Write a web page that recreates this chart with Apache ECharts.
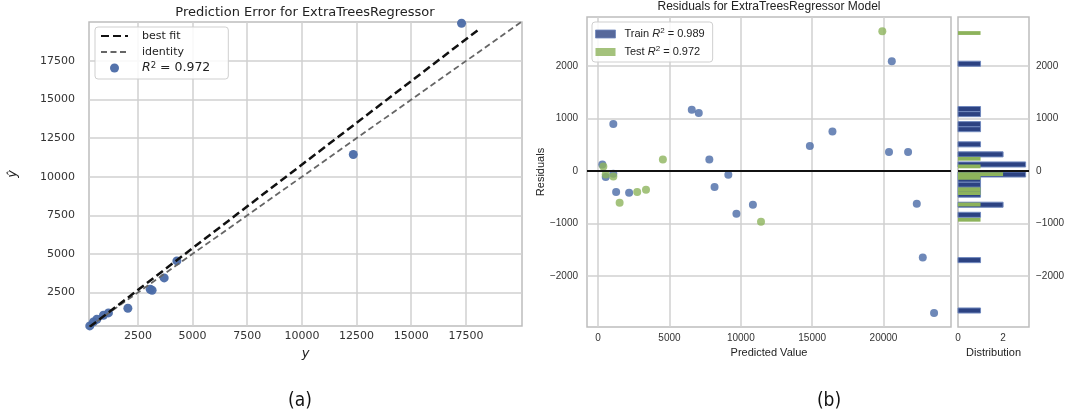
<!DOCTYPE html>
<html><head><meta charset="utf-8">
<script src="https://cdn.jsdelivr.net/npm/echarts@6/dist/echarts.min.js"></script>
<style>html,body{margin:0;padding:0;background:#fff}#c{width:1072px;height:420px}</style>
</head><body><div id="c"></div>
<script>
// ---------- (a) Prediction Error data ----------
const actualY    = [300, 469, 624, 926, 1155, 2043, 3063, 3150, 3703, 4284, 12350, 17300];
const predictedY = [334, 593, 768, 1028, 1177, 1482, 2714, 2650, 3447, 4549, 11440, 19950];
const bestFitX   = [300, 18100];
const bestFitY   = [280, 19560];
const identityX  = [265, 20065];
const identityY  = [265, 20065];
const errTicks   = [2500, 5000, 7500, 10000, 12500, 15000, 17500];

// ---------- (b) Residuals data ----------
const trainPred  = [294, 532, 1064, 20581, 6562, 7052, 1064, 16422, 14839, 20385, 21723, 7794, 9125, 8158, 1261, 2171, 9692, 10847, 22332, 22752, 23543];
const trainResid = [127, -114, -49, 2091, 1167, 1103, 894, 755, 475, 361, 361, 222, -68, -304, -399, -411, -810, -639, -620, -1646, -2700];
const testPred   = [364, 532, 1064, 19916, 4538, 1506, 2738, 3354, 11415];
const testResid  = [89, -63, -101, 2662, 222, -601, -399, -354, -962];
const residXTicks = [0, 5000, 10000, 15000, 20000];
const residYTicks = [-2000, -1000, 0, 1000, 2000];
const histXTicks  = [0, 2];
// histogram bins (lower edge, upper edge, count)
const trainBinLo    = [-2700, -1742, -880, -688, -497, -401, -305, -209, -113, 78, 270, 461, 749, 845, 1036, 1132, 1994];
const trainBinHi    = [-2604, -1646, -784, -592, -401, -305, -209, -113, -17, 174, 366, 557, 845, 941, 1132, 1228, 2090];
const trainBinCount = [1, 1, 1, 2, 1, 1, 1, 1, 3, 3, 2, 1, 1, 1, 1, 1, 1];
const testBinLo     = [-962, -672, -455, -382, -165, -92, 53, 198, 2590];
const testBinHi     = [-890, -600, -382, -310, -92, -20, 125, 270, 2662];
const testBinCount  = [1, 1, 1, 1, 1, 2, 1, 1, 1];

const zip = (a, b) => a.map((v, i) => [v, b[i]]);
const bins = (lo, hi, c) => lo.map((v, i) => [v, hi[i], c[i]]);
const fmt = v => (v < 0 ? '\u2212' + Math.abs(v) : String(v));

const F1 = 'DejaVu Sans';
const F2 = 'Liberation Sans';
const gridColor = '#d0d0d0';
const borderColor = '#bdbdbd';
const BLUE = '#4a6aa6', GREEN = '#8db45c';
const HBLUE = '#2c4282', HGREEN = '#8db35b';

function axis(o) {
  const base = {
    type: 'value', min: o.min, max: o.max, gridIndex: o.grid,
    axisLine: { show: false },
    axisTick: { show: false, customValues: o.ticks },
    axisLabel: { customValues: o.ticks, formatter: fmt, fontFamily: o.font, fontSize: o.fs, color: '#333', margin: o.margin },
    splitLine: { show: o.split !== false, lineStyle: { color: gridColor, width: 1.5 } }
  };
  return Object.assign(base, o.extra || {});
}

const chart = echarts.init(document.getElementById('c'));
const histRender = (color, stroke) => (params, api) => {
  const lo = api.value(0), hi = api.value(1), c = api.value(2);
  const p0 = api.coord([0, hi]);
  const p1 = api.coord([c, lo]);
  return { type: 'rect', shape: { x: p0[0], y: p0[1], width: p1[0] - p0[0], height: p1[1] - p0[1] },
           style: { fill: color, stroke: stroke, lineWidth: stroke ? 1 : 0 } };
};

const option = {
  backgroundColor: '#fff',
  animation: false,
  grid: [
    { left: 89, top: 22, width: 433, height: 304, show: true, borderColor: borderColor, borderWidth: 1.5, backgroundColor: '#fff' },
    { left: 587, top: 17, width: 364, height: 310, show: true, borderColor: borderColor, borderWidth: 1.5, backgroundColor: '#fff' },
    { left: 958, top: 17, width: 71, height: 310, show: true, borderColor: borderColor, borderWidth: 1.5, backgroundColor: '#fff' }
  ],
  xAxis: [
    axis({ grid: 0, min: 265, max: 20065, ticks: errTicks, font: F1, fs: 11, margin: 5,
      extra: { name: 'y', nameLocation: 'middle', nameGap: 19, nameTextStyle: { fontStyle: 'italic', fontSize: 13, fontFamily: F1, color: '#222' } } }),
    axis({ grid: 1, min: -780, max: 24730, ticks: residXTicks, font: F2, fs: 10, margin: 6,
      extra: { name: 'Predicted Value', nameLocation: 'middle', nameGap: 19, nameTextStyle: { fontSize: 11, fontFamily: F2, color: '#222' } } }),
    axis({ grid: 2, min: 0, max: 3.15, ticks: histXTicks, font: F2, fs: 10, margin: 6, split: false,
      extra: { name: 'Distribution', nameLocation: 'middle', nameGap: 19, nameTextStyle: { fontSize: 11, fontFamily: F2, color: '#222' } } })
  ],
  yAxis: [
    axis({ grid: 0, min: 330, max: 20030, ticks: errTicks, font: F1, fs: 11, margin: 14,
      extra: { name: 'ŷ', nameLocation: 'middle', nameGap: 70, nameRotate: 90, nameTextStyle: { fontStyle: 'italic', fontSize: 13, fontFamily: F1, color: '#222' } } }),
    axis({ grid: 1, min: -2966, max: 2931, ticks: residYTicks, font: F2, fs: 10, margin: 9,
      extra: { name: 'Residuals', nameLocation: 'middle', nameGap: 40, nameRotate: 90, nameTextStyle: { fontSize: 11, fontFamily: F2, color: '#222' } } }),
    axis({ grid: 2, min: -2966, max: 2931, ticks: residYTicks, font: F2, fs: 10, margin: 7,
      extra: { position: 'right' } })
  ],
  legend: [
    { orient: 'vertical', left: 95, top: 27, padding: [2, 18, 4, 5], itemWidth: 27, itemHeight: 9, itemGap: 2,
      borderColor: '#cfcfcf', borderWidth: 1, borderRadius: 3, backgroundColor: 'rgba(255,255,255,0.85)',
      data: [
        { name: 'best fit', itemStyle: { opacity: 0 } },
        { name: 'identity', itemStyle: { opacity: 0 } },
        { name: 'r2', icon: 'circle' }
      ],
      formatter: n => n === 'r2' ? '{i|R}{s|2}{t| = 0.972}' : n,
      textStyle: { fontFamily: F1, fontSize: 11, color: '#222', padding: [0, 0, 0, 9], lineHeight: 14,
        rich: { i: { fontStyle: 'italic', fontFamily: F1, fontSize: 12.5 },
                s: { fontSize: 8.5, fontFamily: F1, verticalAlign: 'top', padding: [0, 0, 6, 0] },
                t: { fontFamily: F1, fontSize: 12.5 } } } },
    { orient: 'vertical', left: 592, top: 22, padding: [5, 8, 3, 3], itemWidth: 20, itemHeight: 8, itemGap: 4,
      borderColor: '#cfcfcf', borderWidth: 1, borderRadius: 3, backgroundColor: 'rgba(255,255,255,0.85)',
      data: [
        { name: 'train', icon: 'rect', itemStyle: { color: HBLUE, borderColor: '#7088bd', borderWidth: 1 } },
        { name: 'test', icon: 'rect', itemStyle: { color: HGREEN, borderWidth: 0 } }
      ],
      formatter: n => n === 'train' ? 'Train {i|R}{s|2} = 0.989' : 'Test {i|R}{s|2} = 0.972',
      textStyle: { fontFamily: F2, fontSize: 11, color: '#222', padding: [0, 0, 0, 4], lineHeight: 14,
        rich: { i: { fontStyle: 'italic', fontFamily: F2, fontSize: 11 }, s: { fontSize: 8, fontFamily: F2, verticalAlign: 'top', padding: [0, 0, 6, 0] } } } }
  ],
  graphic: [
    { type: 'text', x: 305, y: 6, style: { text: 'Prediction Error for ExtraTreesRegressor', font: '13px "DejaVu Sans"', fill: '#222', textAlign: 'center' } },
    { type: 'text', x: 769, y: 1, style: { text: 'Residuals for ExtraTreesRegressor Model', font: '12px "Liberation Sans"', fill: '#222', textAlign: 'center' } },
    { type: 'text', x: 300, y: 392, style: { text: '(a)', font: '19px "Liberation Sans Narrow", "DejaVu Sans Condensed", sans-serif', fill: '#111', textAlign: 'center' } },
    { type: 'text', x: 829, y: 392, style: { text: '(b)', font: '19px "Liberation Sans Narrow", "DejaVu Sans Condensed", sans-serif', fill: '#111', textAlign: 'center' } }
  ],
  series: [
    { name: 'r2', type: 'scatter', xAxisIndex: 0, yAxisIndex: 0, symbolSize: 9, z: 2,
      itemStyle: { color: BLUE, opacity: 0.95 }, data: zip(actualY, predictedY) },
    { name: 'best fit', type: 'line', xAxisIndex: 0, yAxisIndex: 0, symbol: 'none', z: 4,
      lineStyle: { color: '#111', width: 2.5, type: [8, 4] }, data: zip(bestFitX, bestFitY) },
    { name: 'identity', type: 'line', xAxisIndex: 0, yAxisIndex: 0, symbol: 'none', z: 3,
      lineStyle: { color: '#666', width: 1.8, type: [6, 3.5] }, data: zip(identityX, identityY) },

    { name: 'train', type: 'scatter', xAxisIndex: 1, yAxisIndex: 1, symbolSize: 8, z: 2,
      itemStyle: { color: BLUE }, data: zip(trainPred, trainResid),
      markLine: { silent: true, symbol: 'none', label: { show: false }, lineStyle: { color: '#111', width: 2, type: 'solid' }, data: [{ yAxis: 0 }] } },
    { name: 'test', type: 'scatter', xAxisIndex: 1, yAxisIndex: 1, symbolSize: 8, z: 3,
      itemStyle: { color: GREEN }, data: zip(testPred, testResid) },

    { name: 'train', type: 'custom', xAxisIndex: 2, yAxisIndex: 2, z: 2, itemStyle: { color: HBLUE },
      encode: { x: 2, y: [0, 1] }, renderItem: histRender(HBLUE, '#7088bd'), data: bins(trainBinLo, trainBinHi, trainBinCount) },
    { name: 'test', type: 'custom', xAxisIndex: 2, yAxisIndex: 2, z: 3, itemStyle: { color: HGREEN },
      encode: { x: 2, y: [0, 1] }, renderItem: histRender(HGREEN, null), data: bins(testBinLo, testBinHi, testBinCount) },
    { name: 'zero', type: 'line', xAxisIndex: 2, yAxisIndex: 2, data: [], z: 5,
      markLine: { silent: true, symbol: 'none', label: { show: false }, lineStyle: { color: '#111', width: 2, type: 'solid' }, data: [{ yAxis: 0 }] } }
  ]
};
chart.setOption(option);
</script>
</body></html>
